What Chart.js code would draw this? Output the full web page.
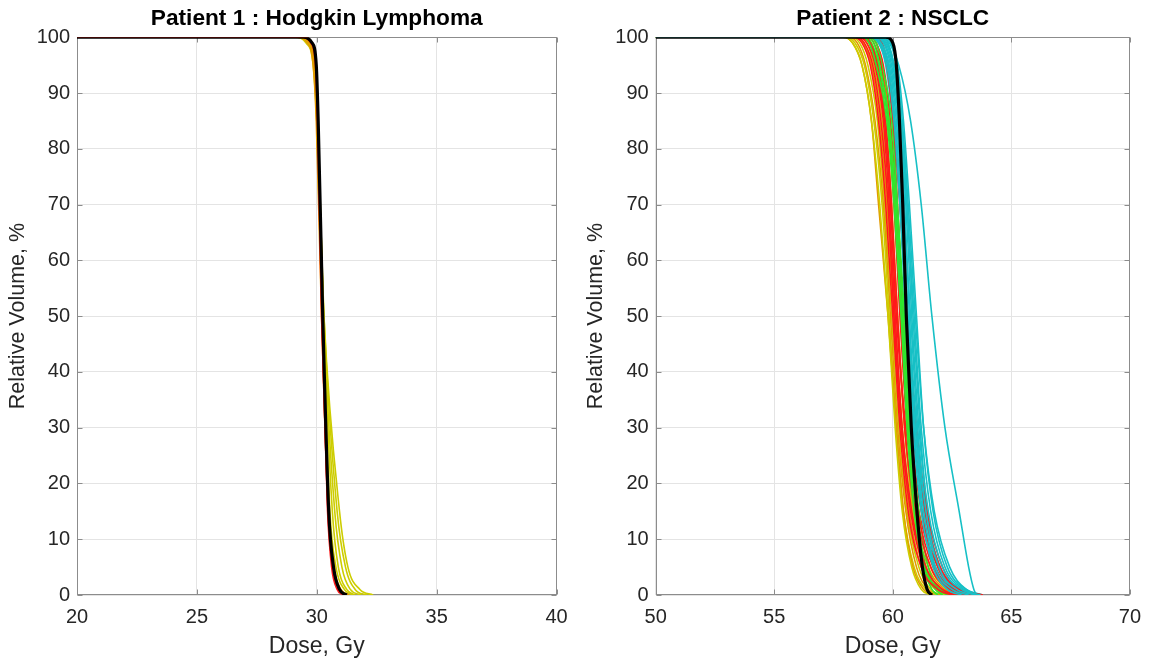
<!DOCTYPE html>
<html>
<head>
<meta charset="utf-8">
<script src="https://cdn.jsdelivr.net/npm/chart.js@4.4.1/dist/chart.umd.min.js"></script>
<style>
  html, body { margin: 0; padding: 0; background: #fff; }
  #wrap { position: relative; width: 1151px; height: 658px; }
  canvas { position: absolute; top: 0; }
  #c1 { left: 0; }
  #c2 { left: 578px; }
</style>
</head>
<body>
<div id="wrap">
  <canvas id="c1" width="578" height="658"></canvas>
  <canvas id="c2" width="573" height="658"></canvas>
</div>
<script>
const leftVolume = [100, 99, 95, 85, 50, 15, 5, 1, 0];
const rightVolume = [100, 99, 95, 85, 70, 50, 30, 15, 5, 1, 0];

const xTicks1 = [20, 25, 30, 35, 40];
const xTicks2 = [50, 55, 60, 65, 70];

// Patient 1 : Hodgkin Lymphoma
const hlYellow = [
  [29.1, 29.55, 29.85, 30.0, 30.3, 30.95, 31.3, 31.8, 32.35],
  [29.2, 29.6, 29.88, 30.02, 30.3, 30.85, 31.2, 31.6, 32.1],
  [29.3, 29.65, 29.9, 30.03, 30.28, 30.75, 31.05, 31.4, 31.85],
  [29.35, 29.7, 29.92, 30.05, 30.28, 30.65, 30.9, 31.25, 31.6],
  [29.4, 29.72, 29.93, 30.04, 30.26, 30.55, 30.8, 31.15, 31.5]
];
const hlOrange = [
  [29.2, 29.6, 29.85, 29.98, 30.2, 30.48, 30.7, 31.0, 31.35],
  [29.3, 29.7, 29.9, 30.0, 30.22, 30.5, 30.72, 31.0, 31.3]
];
const hlRed = [
  [29.4, 29.75, 29.95, 30.03, 30.2, 30.45, 30.62, 30.85, 31.1],
  [29.5, 29.8, 29.97, 30.05, 30.22, 30.47, 30.66, 30.9, 31.15]
];
const hlBlack = [29.45, 29.8, 29.98, 30.06, 30.25, 30.5, 30.7, 30.95, 31.25];

// Patient 2 : NSCLC
const nsYellow = [
  [57.9, 58.3, 58.7, 59.1, 59.45, 59.8, 60.1, 60.4, 60.8, 61.2, 61.6],
  [58.0, 58.4, 58.8, 59.2, 59.55, 59.85, 60.15, 60.45, 60.9, 61.4, 61.9],
  [58.2, 58.6, 58.95, 59.35, 59.65, 59.95, 60.25, 60.6, 61.1, 61.6, 62.2],
  [58.5, 58.9, 59.2, 59.55, 59.8, 60.1, 60.4, 60.8, 61.3, 61.9, 62.5],
  [58.8, 59.1, 59.4, 59.7, 59.95, 60.2, 60.5, 60.85, 61.4, 62.1, 62.7]
];
const nsOrange = [
  [57.9, 58.3, 58.7, 59.1, 59.4, 59.8, 60.15, 60.45, 60.85, 61.3, 61.7],
  [58.1, 58.5, 58.85, 59.25, 59.6, 59.9, 60.2, 60.55, 61.0, 61.5, 62.0],
  [58.4, 58.75, 59.1, 59.45, 59.75, 60.05, 60.35, 60.7, 61.2, 61.8, 62.3],
  [58.6, 59.0, 59.3, 59.65, 59.9, 60.2, 60.5, 60.9, 61.5, 62.2, 62.9],
  [59.0, 59.3, 59.55, 59.85, 60.1, 60.35, 60.65, 61.0, 61.6, 62.3, 63.0]
];
const nsGreen = [
  [58.7, 59.0, 59.3, 59.75, 60.05, 60.35, 60.6, 60.9, 61.3, 61.65, 61.9],
  [58.9, 59.2, 59.45, 59.85, 60.15, 60.45, 60.7, 61.0, 61.4, 61.9, 62.3],
  [58.8, 59.1, 59.4, 59.8, 60.1, 60.4, 60.65, 60.95, 61.35, 61.8, 62.1],
  [59.0, 59.3, 59.55, 59.95, 60.2, 60.5, 60.75, 61.1, 61.5, 62.0, 62.5]
];
const nsRed = [
  [58.3, 58.7, 59.05, 59.4, 59.7, 60.0, 60.3, 60.65, 61.2, 61.9, 62.5],
  [58.5, 58.9, 59.25, 59.6, 59.85, 60.1, 60.4, 60.8, 61.4, 62.1, 62.8],
  [58.7, 59.05, 59.35, 59.7, 59.95, 60.2, 60.5, 60.95, 61.6, 62.4, 63.1],
  [58.9, 59.2, 59.5, 59.8, 60.05, 60.3, 60.6, 61.05, 61.7, 62.6, 63.4],
  [59.0, 59.3, 59.6, 59.9, 60.15, 60.4, 60.75, 61.2, 61.9, 62.8, 63.8],
  [59.2, 59.5, 59.75, 60.0, 60.2, 60.45, 60.85, 61.35, 62.0, 62.9, 63.6],
  [58.6, 59.0, 59.3, 59.65, 59.9, 60.15, 60.55, 61.1, 61.8, 62.5, 63.2],
  [59.3, 59.55, 59.8, 60.05, 60.3, 60.6, 61.0, 61.45, 62.1, 62.8, 63.5],
  [58.4, 58.8, 59.15, 59.5, 59.8, 60.05, 60.35, 60.75, 61.3, 62.0, 62.6]
];
const nsCyan = [
  [59.0, 59.4, 59.75, 60.05, 60.3, 60.55, 60.85, 61.2, 61.7, 62.3, 62.9],
  [59.1, 59.5, 59.85, 60.15, 60.4, 60.65, 60.95, 61.3, 61.8, 62.5, 63.2],
  [59.2, 59.6, 59.9, 60.2, 60.45, 60.75, 61.05, 61.4, 61.95, 62.7, 63.5],
  [59.3, 59.7, 60.0, 60.3, 60.55, 60.8, 61.1, 61.5, 62.1, 62.9, 63.7],
  [59.5, 59.8, 60.05, 60.35, 60.6, 60.9, 61.2, 61.6, 62.2, 63.0, 63.6],
  [59.1, 59.45, 59.8, 60.1, 60.35, 60.6, 60.9, 61.25, 61.75, 62.4, 63.0],
  [59.3, 59.65, 59.95, 60.25, 60.5, 60.7, 61.0, 61.35, 61.9, 62.6, 63.3],
  [59.7, 59.95, 60.2, 60.45, 60.7, 61.0, 61.3, 61.7, 62.3, 63.1, 63.8],
  [59.4, 59.75, 60.05, 60.35, 60.6, 60.85, 61.15, 61.45, 61.95, 62.6, 63.2],
  [59.0, 59.4, 59.7, 60.0, 60.3, 60.6, 60.95, 61.4, 62.0, 62.8, 63.4],
  [59.6, 59.9, 60.15, 60.4, 60.65, 60.95, 61.3, 61.75, 62.4, 63.1, 63.7],
  [59.5, 59.85, 60.25, 60.75, 61.2, 61.65, 62.2, 62.8, 63.2, 63.42, 63.55]
];
const nsBlack = [59.7, 60.0, 60.15, 60.28, 60.42, 60.57, 60.78, 61.02, 61.25, 61.45, 61.65];

const COLORS = {
  yellow: '#cdcd00',
  orange: '#e39a00',
  red: '#ff1a1a',
  green: '#2ee82e',
  cyan: '#17c0c6',
  black: '#000000'
};

Chart.defaults.font.family = "'Liberation Sans', Arial, Helvetica, sans-serif";
Chart.defaults.color = '#262626';

function curve(volume, start, dose, color, width) {
  const pts = [{ x: start, y: 100 }];
  dose.forEach((d, i) => pts.push({ x: d, y: volume[i] }));
  return {
    data: pts,
    borderColor: color,
    borderWidth: width,
    pointRadius: 0,
    fill: false,
    cubicInterpolationMode: 'monotone'
  };
}

function group(volume, start, list, color) {
  return list.map(d => curve(volume, start, d, color, 1.6));
}

// mix several groups so no single colour hides the others
function interleave(...groups) {
  const out = [];
  const n = Math.max(...groups.map(g => g.length));
  for (let i = 0; i < n; i++) groups.forEach(g => { if (g[i]) out.push(g[i]); });
  return out;
}

// box around the axes with inward ticks, like the original
const frame = {
  id: 'frame',
  beforeDatasetsDraw(chart) {
    const a = chart.chartArea, ctx = chart.ctx;
    const l = Math.round(a.left) + 0.5, r = Math.round(a.right) - 0.5;
    const t = Math.round(a.top) + 0.5, b = Math.round(a.bottom) - 0.5;
    ctx.save();
    ctx.strokeStyle = '#8c8c8c';
    ctx.lineWidth = 1;
    ctx.strokeRect(l, t, r - l, b - t);
    ctx.beginPath();
    chart.scales.x.ticks.forEach(tk => {
      const px = Math.round(chart.scales.x.getPixelForValue(tk.value)) + 0.5;
      ctx.moveTo(px, b); ctx.lineTo(px, b - 5);
      ctx.moveTo(px, t); ctx.lineTo(px, t + 5);
    });
    chart.scales.y.ticks.forEach(tk => {
      const py = Math.round(chart.scales.y.getPixelForValue(tk.value)) + 0.5;
      ctx.moveTo(l, py); ctx.lineTo(l + 5, py);
      ctx.moveTo(r, py); ctx.lineTo(r - 5, py);
    });
    ctx.stroke();
    ctx.restore();
  }
};

function makeChart(id, title, xmin, xmax, datasets, rightPad, yWidth) {
  return new Chart(document.getElementById(id), {
    type: 'line',
    data: { datasets: datasets },
    plugins: [frame],
    options: {
      responsive: false,
      animation: false,
      layout: { padding: { right: rightPad, left: 0, top: 0, bottom: 0 } },
      plugins: {
        legend: { display: false },
        tooltip: { enabled: false },
        title: {
          display: true,
          text: title,
          fullSize: false,
          color: '#000',
          font: { size: 22.7, weight: 'bold' },
          padding: { top: 5, bottom: 5 }
        }
      },
      scales: {
        x: {
          type: 'linear',
          min: xmin,
          max: xmax,
          afterBuildTicks: s => { s.ticks = (xmin === 20 ? xTicks1 : xTicks2).map(v => ({ value: v })); },
          afterFit: s => { s.height = 63; },
          ticks: { font: { size: 20 }, color: '#262626', padding: 10, maxRotation: 0 },
          grid: { color: '#e4e4e4', drawTicks: false },
          border: { display: false },
          title: {
            display: true,
            text: 'Dose, Gy',
            color: '#262626',
            font: { size: 23, lineHeight: 1.0 },
            padding: { top: 0, bottom: 0 }
          }
        },
        y: {
          min: 0,
          max: 100,
          afterFit: s => { s.width = yWidth; },
          ticks: { stepSize: 10, font: { size: 20 }, color: '#262626', padding: 7 },
          grid: { color: '#e4e4e4', drawTicks: false },
          border: { display: false },
          title: {
            display: true,
            text: 'Relative Volume, %',
            color: '#262626',
            font: { size: 21.5 },
            padding: { top: 5, bottom: 0 }
          }
        }
      }
    }
  });
}

// Chart.js paints the first dataset on top: black first, then the rest
const left = [].concat(
  [curve(leftVolume, 20, hlBlack, COLORS.black, 3.2)],
  group(leftVolume, 20, hlRed, COLORS.red),
  group(leftVolume, 20, hlOrange, COLORS.orange),
  group(leftVolume, 20, hlYellow, COLORS.yellow)
);

const right = [].concat(
  [curve(rightVolume, 50, nsBlack, COLORS.black, 3.2)],
  interleave(
    group(rightVolume, 50, nsCyan, COLORS.cyan),
    group(rightVolume, 50, nsRed, COLORS.red),
    group(rightVolume, 50, nsGreen, COLORS.green)
  ),
  interleave(
    group(rightVolume, 50, nsYellow, COLORS.yellow),
    group(rightVolume, 50, nsOrange, COLORS.orange)
  )
);

makeChart('c1', 'Patient 1 : Hodgkin Lymphoma', 20, 40, left, 21.5, 77);
makeChart('c2', 'Patient 2 : NSCLC', 50, 70, right, 16.7, 77.7);
</script>
</body>
</html>
